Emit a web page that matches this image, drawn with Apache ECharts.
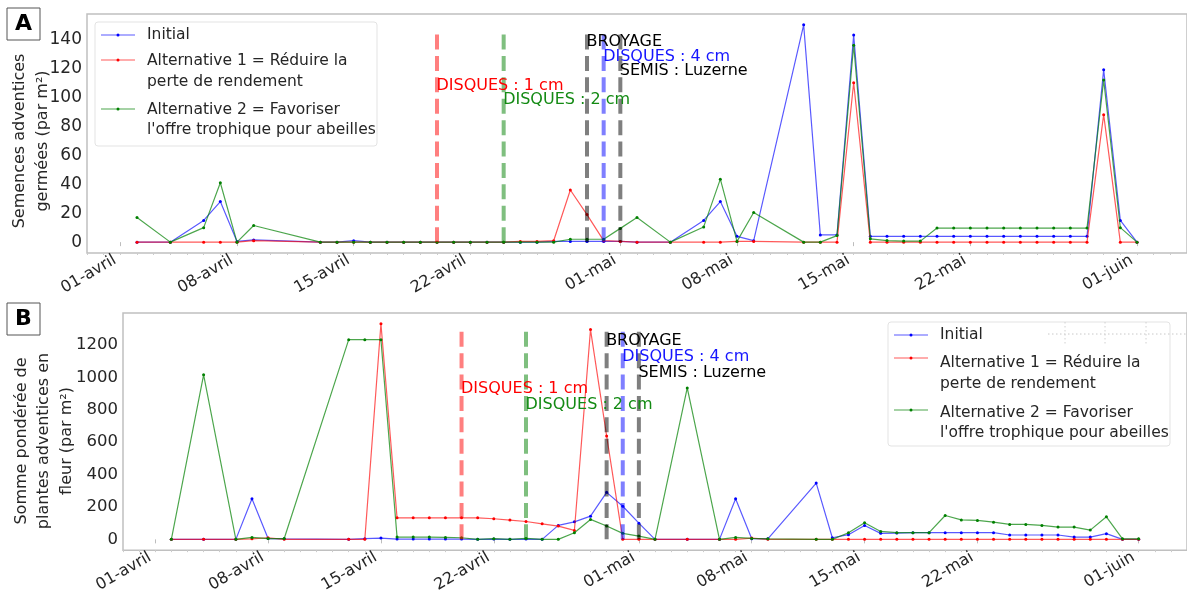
<!DOCTYPE html>
<html><head><meta charset="utf-8">
<script src="https://cdn.jsdelivr.net/npm/echarts@6/dist/echarts.min.js"></script>
<style>html,body{margin:0;padding:0;background:#fff}#c{width:1187px;height:595px}</style>
</head><body><div id="c"></div>
<script>
// ---- DATA ----
// day offsets from 01-avril
const days = [1,3,5,6,7,8,12,13,14,15,16,17,18,19,20,21,22,23,24,25,26,27,28,29,30,31,33,35,36,37,38,41,42,43,44,45,46,47,48,49,50,51,52,53,54,55,56,57,58,59,60,61];
const tickDays = [0,7,14,21,30,37,44,51,61];
const tickLabels = ["01-avril","08-avril","15-avril","22-avril","01-mai","08-mai","15-mai","22-mai","01-juin"];
const yTicksA = [0,20,40,60,80,100,120,140];
const yTicksB = [0,200,400,600,800,1000,1200];
const seriesNames = ["Initial","Alternative 1 = Réduire la\nperte de rendement","Alternative 2 = Favoriser\nl'offre trophique pour abeilles"];

// Panel A: Semences adventices germées (par m²)
const initialA = [0,0,15,28,0.5,1.5, 0,0,1,0,0,0,0,0,0,0,0,0,0,0,0.5,0.5,0.5,0.5,0.5,0, 0, 15,28,4,1, 150,5,5,143,4,4,4,4,4,4,4,4,4,4,4,4,4,4,119,15,0];
const alt1A    = [0,0,0,0,0,1, 0,0,0,0,0,0,0,0,0,0,0,0,0.5,0.5,1,36,19,1,0.5,0, 0, 0,0,0.5,0.5, 0,0,0,110,0,0,0,0,0,0,0,0,0,0,0,0,0,0,88,0,0];
const alt2A    = [17,0,10,41,0,11.5, 0,0,0,0,0,0,0,0,0,0,0,0,0,0,0,2,2,2,9.5,17, 0, 10.5,43.5,0.5,20.5, 0,0,4.5,136,2.3,1.1,0.7,0.7,9.7,9.7,9.7,9.7,9.7,9.7,9.7,9.7,9.7,9.7,112,10,0];

// Panel B: Somme pondérée de plantes adventices en fleur (par m²)
const initialB = [0,0,0,251,5,3, 0,4,8,2,2,2,2,2,0,2,0,2,0,86,108,143,290,204,100,0, 0, 0,251,4,3, 347,10,29,86,37,39,41,41,41,41,41,41,27,27,27,27,14,14,35,0,0];
const alt1B    = [0,0,0,3,10,0, 0,0,1330,133,133,133,133,133,133,127,119,110,96,82,55,1294,638,0,0,0, 0, 0,0,8,0, 0,0,0,0,0,0,0,0,0,0,0,0,0,0,0,0,0,0,0,0,0];
const alt2B    = [0,1015,0,12,5,5, 1232,1232,1232,14,14,14,12,10,0,4,0,6,0,0,41,123,82,37,20,0, 934, 0,12,6,3, 0,0,41,102,49,41,41,41,147,120,117,106,92,92,86,76,76,57,139,3,3];

// Field operations (vertical markers)
const eventDays   = [19, 23, 28, 29, 30];
const eventTexts  = ["DISQUES : 1 cm","DISQUES : 2 cm","BROYAGE","DISQUES : 4 cm","SEMIS : Luzerne"];
const eventLabelYA = [105, 95, 135, 125, 115];
const eventLabelYB = [900, 800, 1200, 1100, 1000];
const eventTopA = 146;
const eventTopB = 1295;

// ---- STYLE ----
const FONT = 'DejaVu Sans';
const TXT = '#262626';
const seriesColors = ['#0000ff', '#ff0000', '#008000'];
const lineColors = ['rgba(0,0,255,0.65)', 'rgba(255,0,0,0.65)', 'rgba(0,128,0,0.7)'];
const eventColors = ['#ff0000', '#008000', '#000000', '#0000ff', '#000000'];
const eventTextColors = ['#ff0000', '#138a13', '#000000', '#1515ff', '#000000'];

const chart = echarts.init(document.getElementById('c'));

function xAxesFor(gridIndex) {
  return [
    { type:'value', gridIndex, position:'bottom', min:-2, max:64,
      axisLine:{show:false}, splitLine:{show:false},
      axisTick:{show:true, customValues: tickDays, length:4, lineStyle:{color:'#bdbdbd'}},
      axisLabel:{show:true, customValues: tickDays, formatter: v => tickLabels[tickDays.indexOf(v)] || '',
        rotate:30, margin:3, padding:[0,6,0,0], fontSize:16, color:TXT, fontFamily:FONT} },
    { type:'value', gridIndex, position:'bottom', min:-2, max:64, interval:1,
      axisLine:{show:false}, splitLine:{show:false},
      axisTick:{show:true, length:2, lineStyle:{color:'#cccccc'}}, axisLabel:{show:false} }
  ];
}
function yAxisFor(gridIndex, min, max, ticks, size) {
  return { type:'value', gridIndex, min, max, axisLine:{show:false}, splitLine:{show:false},
    axisTick:{show:false},
    axisLabel:{customValues: ticks, formatter: v => String(v), fontSize:size, color:TXT, margin:5, fontFamily:FONT} };
}

function dataSeries(xi, yi, values) {
  return values.map((vals, k) => ({
    type:'line', xAxisIndex:xi, yAxisIndex:yi, name: seriesNames[k],
    data: days.map((d, i) => [d, vals[i]]),
    symbol:'circle', symbolSize:3, showSymbol:true, animation:false,
    lineStyle:{color: lineColors[k], width:1.2},
    itemStyle:{color: seriesColors[k]}, z: 3 + k
  }));
}
function eventSeries(xi, yi, top, labelY) {
  const out = eventDays.map((d, i) => ({
    type:'line', xAxisIndex:xi, yAxisIndex:yi, symbol:'none', animation:false, silent:true,
    data: [[d, 0], [d, top]],
    lineStyle:{color: eventColors[i], width:4, type:[15, 6.4], opacity:0.5}, z: 8
  }));
  out.push({
    type:'scatter', xAxisIndex:xi, yAxisIndex:yi, symbolSize:1, silent:true, animation:false,
    itemStyle:{color:'rgba(0,0,0,0)'}, z: 10,
    data: eventDays.map((d, i) => ({ value:[d, labelY[i]],
      label:{show:true, formatter: eventTexts[i], color: eventTextColors[i], opacity:1, position:[0,0],
        align:'left', verticalAlign:'bottom', offset:[0,4], fontSize:16, fontFamily:FONT} }))
  });
  return out;
}

function legendGraphic(x0, y0, ys) {
  const els = [];
  const lx1 = x0 + 6, lx2 = x0 + 40, tx = x0 + 52;
  els.push({type:'rect', shape:{x:x0, y:y0, width:282, height:124, r:3},
    style:{fill:'rgba(255,255,255,0.85)', stroke:'#e3e3e3', lineWidth:1}, z:100});
  const lineYs = [ys[0], ys[1], ys[3]];
  lineYs.forEach((ly, k) => {
    els.push({type:'line', shape:{x1:lx1, y1:ly, x2:lx2, y2:ly}, style:{stroke:lineColors[k], lineWidth:1.2}, z:101});
    els.push({type:'circle', shape:{cx:(lx1+lx2)/2, cy:ly, r:1.5}, style:{fill:seriesColors[k]}, z:101});
  });
  els.push({type:'text', x:tx, y:ys[0], style:{text:seriesNames[0], fill:TXT, font:'15.5px "DejaVu Sans"', textVerticalAlign:'middle'}, z:101});
  els.push({type:'text', x:tx, y:ys[2], style:{text:seriesNames[1], fill:TXT, font:'15.5px "DejaVu Sans"', lineHeight:20.5, textVerticalAlign:'top'}, z:101});
  els.push({type:'text', x:tx, y:ys[4], style:{text:seriesNames[2], fill:TXT, font:'15.5px "DejaVu Sans"', lineHeight:20.5, textVerticalAlign:'top'}, z:101});
  return els;
}

function panelTag(x, y, letter) {
  return [
    {type:'rect', shape:{x:x, y:y, width:33, height:32}, style:{fill:'#fff', stroke:'#555', lineWidth:1}, z:100},
    {type:'text', x:x+16.5, y:y+16.5, style:{text:letter, fill:'#000', font:'bold 22px "DejaVu Sans"', textAlign:'center', textVerticalAlign:'middle'}, z:101}
  ];
}
function vLabel(x, y, txt) {
  return {type:'text', x:x, y:y, rotation:Math.PI/2,
    style:{text:txt, fill:TXT, font:'16px "DejaVu Sans"', textAlign:'center', textVerticalAlign:'middle'}, z:100};
}

const graphics = [].concat(
  panelTag(7, 8, 'A'), panelTag(7, 303, 'B'),
  [vLabel(20, 141, 'Semences adventices'), vLabel(43, 141, 'germées (par m²)'),
   vLabel(22, 441, 'Somme pondérée de'), vLabel(44, 441, 'plantes adventices en'), vLabel(67, 441, 'fleur (par m²)')],
  legendGraphic(95, 22, [35, 60, 51, 109, 99.5]),
  legendGraphic(888, 322, [335, 358, 353, 410, 402.5]),
  [
    {type:'line', shape:{x1:1048, y1:334, x2:1187, y2:334}, style:{stroke:'#c8c8c8', lineWidth:1, lineDash:[1.5,2.5]}, z:102},
    {type:'line', shape:{x1:1065, y1:322, x2:1065, y2:345}, style:{stroke:'#d0d0d0', lineWidth:1, lineDash:[1.5,2.5]}, z:102},
    {type:'line', shape:{x1:1105, y1:322, x2:1105, y2:345}, style:{stroke:'#d0d0d0', lineWidth:1, lineDash:[1.5,2.5]}, z:102},
    {type:'line', shape:{x1:1146, y1:322, x2:1146, y2:345}, style:{stroke:'#d0d0d0', lineWidth:1, lineDash:[1.5,2.5]}, z:102}
  ]
);

chart.setOption({
  backgroundColor:'#ffffff',
  animation:false,
  textStyle:{fontFamily:FONT},
  grid:[
    {left:87, top:14, width:1103, height:239, show:true, borderColor:'#c0c0c0', borderWidth:1.5, containLabel:false},
    {left:123, top:313, width:1072.5, height:238, show:true, borderColor:'#c0c0c0', borderWidth:1.5, containLabel:false}
  ],
  xAxis: [].concat(xAxesFor(0), xAxesFor(1)),
  yAxis: [yAxisFor(0, -7.5, 157.5, yTicksA, 17), yAxisFor(1, -66.5, 1396.5, yTicksB, 16.5)],
  series: [].concat(
    dataSeries(0, 0, [initialA, alt1A, alt2A]),
    eventSeries(0, 0, eventTopA, eventLabelYA),
    dataSeries(2, 1, [initialB, alt1B, alt2B]),
    eventSeries(2, 1, eventTopB, eventLabelYB)
  ),
  graphic: graphics
});
</script></body></html>
